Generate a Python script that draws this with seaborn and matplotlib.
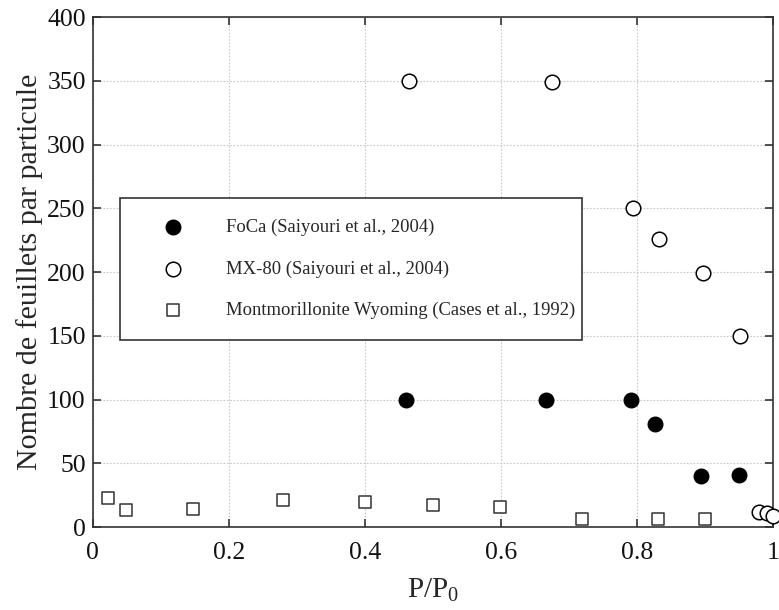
import matplotlib
matplotlib.use('Agg')
import matplotlib.pyplot as plt
import seaborn as sns

# FoCa (Saiyouri et al., 2004)
foca_x = [0.46, 0.666, 0.791, 0.827, 0.895, 0.95]
foca_y = [100, 100, 100, 81, 40, 41]

# MX-80 (Saiyouri et al., 2004)
mx80_x = [0.465, 0.676, 0.795, 0.833, 0.897, 0.952, 0.98, 0.992, 1.0]
mx80_y = [350, 349, 250, 226, 199, 150, 12, 11, 9]

# Montmorillonite Wyoming (Cases et al., 1992)
wyo_x = [0.023, 0.049, 0.148, 0.28, 0.40, 0.50, 0.599, 0.72, 0.831, 0.90]
wyo_y = [23, 13.5, 14.5, 21.5, 19.5, 17.5, 16, 6, 6, 6]

labels = ['FoCa (Saiyouri et al., 2004)',
          'MX-80 (Saiyouri et al., 2004)',
          'Montmorillonite Wyoming (Cases et al., 1992)']

xticks = [0, 0.2, 0.4, 0.6, 0.8, 1]
xticklabels = ['0', '0.2', '0.4', '0.6', '0.8', '1']
yticks = [0, 50, 100, 150, 200, 250, 300, 350, 400]

sns.set_style('ticks')
plt.rcParams['font.family'] = ['Liberation Serif', 'DejaVu Serif']
plt.rcParams['mathtext.fontset'] = 'custom'
plt.rcParams['mathtext.rm'] = 'Liberation Serif'

fig = plt.figure(figsize=(7.79, 6.10), dpi=100)
ax = fig.add_axes([0.119, 0.136, 0.873, 0.836])

sns.scatterplot(x=foca_x, y=foca_y, ax=ax, marker='o', s=110, color='black',
                edgecolor='black', linewidth=1, label=labels[0], zorder=3, clip_on=False)
sns.scatterplot(x=mx80_x, y=mx80_y, ax=ax, marker='o', s=110, facecolor='white',
                edgecolor='black', linewidth=1.1, label=labels[1], zorder=3, clip_on=False)
sns.scatterplot(x=wyo_x, y=wyo_y, ax=ax, marker='s', s=75, facecolor='white',
                edgecolor='#333333', linewidth=1.1, label=labels[2], zorder=3, clip_on=False)

ax.set_xlim(0, 1)
ax.set_ylim(0, 400)
ax.set_xticks(xticks)
ax.set_xticklabels(xticklabels)
ax.set_yticks(yticks)
ax.grid(True, linestyle=(0, (1.5, 1.5)), color='#c8c8c8', linewidth=0.8)
ax.set_axisbelow(True)
for s in ax.spines.values():
    s.set_visible(True)
    s.set_color('#333333')
    s.set_linewidth(1.2)
ax.tick_params(direction='in', length=6, width=1.2, labelsize=18.5, top=True, right=True,
               color='#333333', labelcolor='#111111', pad=5)
ax.tick_params(axis='x', pad=10.5)

ax.set_xlabel(r'P/P$_{\mathrm{0}}$', fontsize=21, labelpad=9)
ax.set_ylabel('Nombre de feuillets par particule', fontsize=21.6, labelpad=3)

leg = ax.legend(loc='upper left', bbox_to_anchor=(0.04, 0.3725, 0.68, 0.2725),
                mode='expand', frameon=True, fancybox=False, fontsize=13.4,
                borderpad=1.12, borderaxespad=0, labelspacing=1.3,
                handlelength=3.5, handletextpad=1.1)
leg.get_frame().set_edgecolor('#333333')
leg.get_frame().set_linewidth(1.2)
leg.get_frame().set_alpha(1)

fig.savefig('out.png', dpi=100)
